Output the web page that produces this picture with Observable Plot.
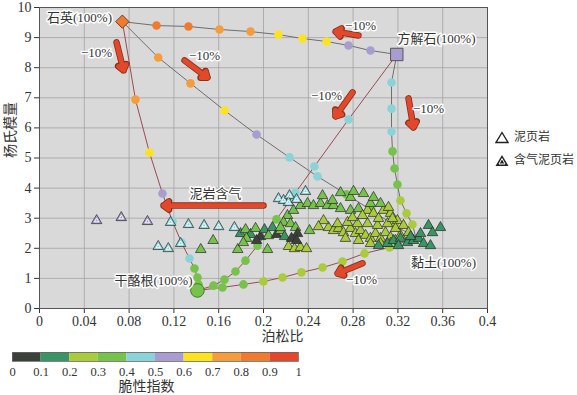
<!DOCTYPE html>
<html><head><meta charset="utf-8">
<script src="https://cdn.jsdelivr.net/npm/d3@7"></script>
<script src="https://cdn.jsdelivr.net/npm/@observablehq/plot@0.6"></script>
<style>
body{margin:0;background:#fff;}
#wrap{position:relative;width:577px;height:395px;overflow:hidden;font-family:'Liberation Serif','Noto Sans CJK SC',serif;}
#main{position:absolute;left:0;top:0;}
#cbar{position:absolute;left:0;top:340px;}
.lg{position:absolute;font-size:12px;color:#333;line-height:16px;white-space:nowrap;}
</style></head><body>
<div id="wrap"><div id="main"></div><div id="cbar"></div>
<svg class="lg" style="left:495px;top:131px" width="14" height="13"><polygon points="7,1.5 13,11.5 1,11.5" fill="white" stroke="#222" stroke-width="1.4"/></svg>
<div class="lg" style="left:514px;top:129px">泥页岩</div>
<svg class="lg" style="left:495px;top:154px" width="14" height="13"><polygon points="7,1 13.5,12 0.5,12" fill="#222"/><polygon points="7,4.5 10,10 4,10" fill="none" stroke="white" stroke-width="1"/></svg>
<div class="lg" style="left:514px;top:152px">含气泥页岩</div>
</div>
<script>
// ---- scales / ticks ----
const xTicks = [0,0.04,0.08,0.12,0.16,0.2,0.24,0.28,0.32,0.36,0.4];
const yTicks = [0,1,2,3,4,5,6,7,8,9,10];
const cbTicks = [0,0.1,0.2,0.3,0.4,0.5,0.6,0.7,0.8,0.9,1];
const thresholds = [0.1,0.2,0.3,0.4,0.5,0.6,0.7,0.8,0.9];
const biColors = ["#3b403b","#3a9463","#aacb3b","#76c24b","#8bd3d7","#a99cd0","#fde31f","#f59d3c","#f07b2e","#e4472b"];

// ---- end members [poisson, young, brittleness] ----
const quartz  = [0.074, 9.53, 0.85];
const calcite = [0.319, 8.44, 0.55];
const kerogen = [0.141, 0.60, 0.35];
const clay    = [0.336, 2.36, 0.15];

// ---- mixing paths (10% steps) [poisson, young, brittleness] ----
const pathQuartzCalcite = [[0.1045,9.40,0.85],[0.133,9.37,0.85],[0.1607,9.27,0.75],[0.1884,9.20,0.75],[0.2134,9.10,0.65],[0.2348,8.97,0.65],[0.2563,8.87,0.65],[0.2759,8.74,0.55],[0.2955,8.57,0.55]];
const pathQuartzClay = [[0.106,8.34,0.75],[0.1348,7.48,0.75],[0.1652,6.58,0.65],[0.1938,5.78,0.55],[0.2232,5.02,0.45],[0.2482,4.39,0.45],[0.2741,3.79,0.35],[0.2964,3.26,0.35],[0.317,2.76,0.25]];
const pathCalciteClay = [[0.3143,7.51,0.45],[0.3143,6.64,0.45],[0.3143,5.88,0.45],[0.3152,5.22,0.35],[0.317,4.65,0.35],[0.3196,4.12,0.35],[0.3223,3.59,0.25],[0.3277,3.16,0.25],[0.333,2.79,0.25]];
const pathQuartzKerogen = [[0.0857,6.94,0.75],[0.0982,5.18,0.65],[0.1098,3.82,0.55],[0.1188,2.89,0.45],[0.1268,2.19,0.45],[0.1339,1.66,0.45],[0.1384,1.33,0.35],[0.1411,1.03,0.35],[0.142,0.80,0.35]];
const pathKerogenCalcite = [[0.1554,0.76,0.35],[0.1652,0.96,0.35],[0.175,1.23,0.35],[0.1839,1.59,0.35],[0.1946,2.09,0.35],[0.2116,2.96,0.35],[0.2286,3.85,0.45],[0.2455,4.72,0.45],[0.2759,6.28,0.45]];
const pathKerogenClay = [[0.1634,0.70,0.35],[0.1821,0.80,0.35],[0.2,0.90,0.25],[0.217,1.03,0.25],[0.2339,1.20,0.25],[0.2527,1.36,0.25],[0.2705,1.56,0.25],[0.2902,1.83,0.25],[0.3125,2.03,0.25]];

// ---- samples [poisson, young, brittleness] ----
const gasShale = [[0.051,2.92,0.55],[0.073,3.02,0.55],[0.0964,2.89,0.55],[0.117,2.86,0.45],[0.133,2.79,0.45],[0.147,2.76,0.45],[0.16,2.72,0.45],[0.174,2.69,0.45],[0.106,2.06,0.45],[0.115,1.99,0.45],[0.126,2.16,0.45],[0.2134,3.65,0.45],[0.2179,3.59,0.45],[0.2232,3.75,0.45],[0.2223,3.52,0.45],[0.2295,3.62,0.45],[0.2375,3.89,0.45]];
const shale = [
[0.144,1.96,0.35],[0.155,2.26,0.35],[0.177,1.96,0.35],[0.2036,1.96,0.35],
[0.1795,2.49,0.15],[0.184,2.62,0.35],[0.1884,2.46,0.15],[0.1929,2.66,0.35],[0.1973,2.39,0.05],[0.2009,2.62,0.15],[0.2045,2.42,0.35],[0.208,2.69,0.15],[0.2116,2.46,0.05],[0.2152,2.59,0.35],[0.2188,2.39,0.15],[0.1848,2.33,0.35],[0.1938,2.26,0.05],[0.182,2.19,0.35],
[0.2214,3.09,0.35],[0.2179,2.86,0.35],[0.2152,2.69,0.35],[0.2241,2.82,0.35],[0.2268,3.26,0.35],[0.233,3.42,0.35],[0.2393,3.49,0.35],[0.2446,3.42,0.35],[0.2509,3.49,0.35],[0.2571,3.42,0.35],[0.2625,3.42,0.35],[0.2688,3.32,0.35],[0.2777,3.26,0.35],[0.2848,3.32,0.35],[0.2929,3.26,0.25],[0.2982,3.16,0.25],[0.3071,3.26,0.25],[0.3134,3.16,0.25],[0.3196,2.92,0.25],[0.2411,2.59,0.35],[0.2286,2.69,0.35],[0.2304,2.49,0.05],
[0.2527,3.75,0.35],[0.2688,3.85,0.35],[0.2777,3.69,0.35],[0.2893,3.82,0.35],[0.2955,3.49,0.35],[0.3045,3.49,0.35],[0.3116,3.36,0.25],[0.2616,3.59,0.35],[0.2804,3.89,0.35],[0.2982,3.69,0.35],
[0.258,2.69,0.25],[0.2625,2.59,0.25],[0.267,2.66,0.25],[0.2714,2.52,0.25],[0.2777,2.66,0.25],[0.2821,2.49,0.25],[0.2866,2.59,0.25],[0.2911,2.43,0.25],[0.2955,2.33,0.25],[0.3,2.49,0.25],[0.3045,2.33,0.25],[0.3089,2.52,0.25],[0.3134,2.36,0.25],[0.3179,2.26,0.25],[0.3223,2.43,0.25],[0.2661,2.82,0.25],[0.275,2.86,0.25],[0.2839,2.82,0.25],[0.2929,2.82,0.25],[0.3018,2.76,0.25],[0.3107,2.82,0.25],[0.2955,2.16,0.25],[0.3045,2.16,0.25],[0.3134,2.16,0.25],[0.2536,2.92,0.25],[0.2491,2.72,0.25],[0.2732,2.33,0.25],[0.2848,2.26,0.25],[0.3179,2.66,0.25],[0.325,2.76,0.25],[0.3295,2.52,0.25],[0.2795,3.02,0.25],[0.2884,3.09,0.25],[0.3027,2.99,0.25],[0.3152,2.99,0.25],
[0.3107,2.16,0.15],[0.3161,2.26,0.15],[0.3223,2.33,0.15],[0.3286,2.19,0.15],[0.3339,2.26,0.15],[0.3384,2.33,0.15],[0.3402,2.49,0.15],[0.3429,2.16,0.15],[0.3473,2.76,0.15],[0.3491,2.09,0.15],[0.3509,2.52,0.15],[0.358,2.69,0.15],[0.3205,2.09,0.15],[0.3313,2.39,0.15],[0.3027,2.09,0.15],
[0.2223,2.06,0.25],[0.2277,1.99,0.25],[0.233,2.03,0.25],[0.2384,1.99,0.25],[0.225,2.33,0.05],[0.2295,2.26,0.05]
];

// ---- annotations ----
const arrows = [[0.0688,8.84,0.075,7.91],[0.1295,8.24,0.15,7.67],[0.2848,9.07,0.2643,9.20],[0.2795,7.18,0.2643,6.38],[0.3295,6.98,0.3339,6.01],[0.2884,1.50,0.2661,1.16],[0.2,3.42,0.1107,3.42]];
const arrowLabels = [[0.0509,8.50,"−10%"],[0.1473,8.41,"−10%"],[0.2866,9.40,"−10%"],[0.2563,7.08,"−10%"],[0.3473,6.64,"−10%"],[0.2875,0.96,"−10%"],[0.1571,3.82,"泥岩含气"]];
const vertexLabels = [[0.0357,9.67,"石英(100%)"],[0.3545,8.97,"方解石(100%)"],[0.3607,1.53,"黏土(100%)"],[0.1018,0.93,"干酪根(100%)"]];

const colorScale = {type:"threshold", domain:thresholds, range:biColors};
const X = d=>d[0], Y = d=>d[1], C = d=>d[2];
const grayPaths = [[quartz,...pathQuartzCalcite,calcite],[quartz,...pathQuartzClay,clay],[calcite,...pathCalciteClay,clay]];
const brownPaths = [[quartz,...pathQuartzKerogen,kerogen],[kerogen,...pathKerogenCalcite,calcite],[kerogen,...pathKerogenClay,clay]];
const circles = [...pathQuartzCalcite,...pathQuartzClay,...pathCalciteClay,...pathQuartzKerogen,...pathKerogenCalcite,...pathKerogenClay];
const font = "'Liberation Serif','Noto Sans CJK SC',serif";

const main = Plot.plot({
  width:577, height:345,
  marginLeft:39, marginRight:90, marginTop:7, marginBottom:37,
  style:{fontFamily:font, fontSize:"14px", color:"#333", background:"transparent"},
  x:{domain:[0,0.4], label:null},
  y:{domain:[0,10], label:null},
  color:colorScale,
  marks:[
    Plot.frame({fill:"#d9d9d9"}),
    Plot.gridX(xTicks,{stroke:"#a3a3a3", strokeOpacity:1, strokeWidth:0.8}),
    Plot.gridY(yTicks,{stroke:"#a3a3a3", strokeOpacity:1, strokeWidth:0.8}),
    Plot.axisX({ticks:xTicks, tickSize:5, tickPadding:3, tickFormat:d=>String(d), fontSize:14, fontFamily:"Liberation Serif"}),
    Plot.axisY({ticks:yTicks, tickSize:5, tickPadding:3, fontSize:14, fontFamily:"Liberation Serif"}),
    ...grayPaths.map(p=>Plot.line(p,{x:X,y:Y,stroke:"#6e6e6e",strokeWidth:1})),
    ...brownPaths.map(p=>Plot.line(p,{x:X,y:Y,stroke:"#9b4b52",strokeWidth:1})),
    Plot.dot(circles,{x:X,y:Y,fill:C,r:4.3,stroke:"none"}),
    Plot.dot([kerogen],{x:X,y:Y,fill:C,r:6.8,stroke:"#3f7f2a",strokeWidth:1}),
    Plot.dot(shale,{x:X,y:Y,fill:C,symbol:"triangle",r:3.9,stroke:"#262626",strokeWidth:0.7}),
    Plot.dot(gasShale,{x:X,y:Y,fill:C,symbol:"triangle",r:3.9,stroke:"#262626",strokeWidth:0.7}),
    Plot.dot(gasShale,{x:X,y:Y,symbol:"triangle",r:1.6,fill:"none",stroke:"white",strokeWidth:0.9}),
    Plot.dot([quartz],{x:X,y:Y,fill:C,symbol:"diamond2",r:6,stroke:"#7a3a1a",strokeWidth:1}),
    Plot.dot([calcite],{x:X,y:Y,fill:C,symbol:"square",r:7,stroke:"#555",strokeWidth:1}),
    Plot.arrow(arrows,{x1:d=>d[0],y1:d=>d[1],x2:d=>d[2],y2:d=>d[3],stroke:"#8a2f1c",strokeWidth:6.5,headLength:1.6,headAngle:75}),
    Plot.arrow(arrows,{x1:d=>d[0],y1:d=>d[1],x2:d=>d[2],y2:d=>d[3],stroke:"#e2492a",strokeWidth:4.8,headLength:2,headAngle:75}),
    Plot.text(arrowLabels,{x:X,y:Y,text:d=>d[2],fill:"#333",stroke:"white",strokeWidth:3,fontSize:13}),
    Plot.text(vertexLabels,{x:X,y:Y,text:d=>d[2],fill:"#333",stroke:"white",strokeWidth:3,fontSize:13}),
    Plot.frame({stroke:"#555"}),
    Plot.text(["泊松比"],{frameAnchor:"bottom",dy:32,dx:19,fontSize:14,fill:"#333"}),
    Plot.text(["杨氏模量"],{frameAnchor:"left",dx:-29,rotate:-90,fontSize:14,fill:"#333"})
  ]
});
document.getElementById("main").appendChild(main);

const cbData = biColors.map((c,i)=>({lo:cbTicks[i],hi:cbTicks[i+1]}));
const cbar = Plot.plot({
  width:310, height:55,
  marginLeft:12, marginRight:12, marginTop:12, marginBottom:34,
  style:{fontFamily:font, fontSize:"12px", color:"#333", background:"transparent"},
  x:{domain:[0,1], label:null},
  y:{domain:[0,1], axis:null},
  color:colorScale,
  marks:[
    Plot.rect(cbData,{x1:"lo",x2:"hi",y1:0,y2:1,fill:d=>(d.lo+d.hi)/2}),
    Plot.frame({stroke:"#666",strokeWidth:0.8}),
    Plot.axisX({ticks:cbTicks, tickSize:0, tickPadding:6, tickFormat:d=>String(d), fontSize:12.5, fontFamily:"Liberation Serif"}),
    Plot.text(["脆性指数"],{frameAnchor:"bottom",dy:29,dx:-9,fontSize:14,fill:"#333"})
  ]
});
document.getElementById("cbar").appendChild(cbar);
</script></body></html>
